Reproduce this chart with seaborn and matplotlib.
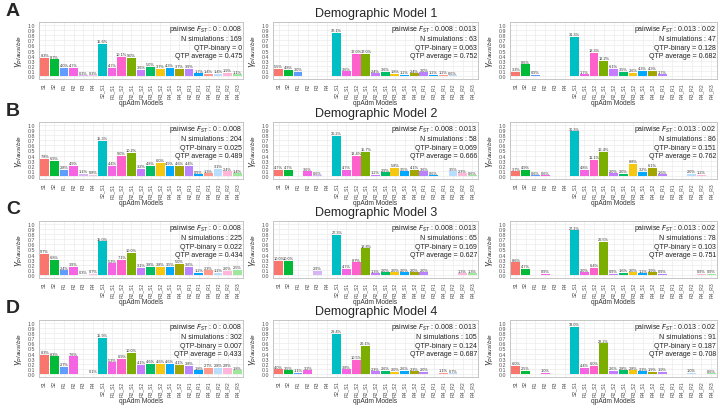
import numpy as np
import pandas as pd
import matplotlib
matplotlib.use("Agg")
import matplotlib.pyplot as plt
import seaborn as sns

sns.set_style("whitegrid")
plt.rcParams['font.family'] = ['Liberation Sans', 'DejaVu Sans']

# qpAdm model categories
models = ["S1", "S2", "R1", "R2", "R3", "R4", "S2_S1", "R1_S1", "R1_S2", "R2_S1",
          "R2_S2", "R3_S1", "R3_S2", "R4_S1", "R4_S2", "R2_R1", "R3_R1", "R4_R1",
          "R3_R2", "R4_R2", "R4_R3"]

bar_colors = ["#F8766D", "#00BA38", "#619CFF", "#F564E3", "#D7B5F5", "#F6C3E6",
              "#00BFC4", "#F564E3", "#FF61CC", "#7CAE00", "#C77CFF", "#00BE67",
              "#F5C710", "#00A9FF", "#A3A500", "#B983FF", "#00A5FF", "#FF9A8C",
              "#B9DDFF", "#FFB6D9", "#9DE89D"]

# Model 1
h_A1 = [0.36, 0.33, 0.16, 0.17, 0.02, 0.02, 0.63, 0.17, 0.38, 0.36, 0.13, 0.18, 0.14, 0.16, 0.14, 0.15, 0.06, 0.05, 0.05, 0.07, 0.04]
p_A1 = [8.3, 8.7, 4.0, 4.7, 0.3, 0.3, 15.6, 4.7, 10.1, 9.0, 3.6, 5.0, 3.7, 4.3, 3.7, 3.9, 1.7, 1.4, 1.4, 1.9, 1.1]
h_A2 = [0.14, 0.13, 0.09, 0, 0, 0, 0.84, 0.10, 0.44, 0.44, 0.06, 0.09, 0.05, 0.03, 0.06, 0.08, 0.03, 0.03, 0.02, 0, 0]
p_A2 = [5.5, 4.8, 3.0, 0, 0, 0, 32.1, 3.6, 17.0, 17.0, 2.4, 3.6, 1.8, 1.2, 2.4, 3.0, 1.2, 1.2, 0.6, 0, 0]
h_A3 = [0.09, 0.23, 0.03, 0, 0, 0, 0.77, 0.04, 0.45, 0.30, 0.15, 0.09, 0.07, 0.11, 0.11, 0.04, 0, 0, 0, 0, 0]
p_A3 = [3.3, 8.6, 0.9, 0, 0, 0, 31.3, 1.7, 18.3, 12.2, 6.1, 3.5, 2.6, 4.3, 4.3, 1.7, 0, 0, 0, 0, 0]
# Model 2
h_B1 = [0.34, 0.30, 0.12, 0.21, 0.05, 0.03, 0.68, 0.20, 0.40, 0.46, 0.14, 0.21, 0.26, 0.21, 0.20, 0.20, 0.04, 0.06, 0.14, 0.10, 0.06]
p_B1 = [7.8, 6.9, 2.8, 4.9, 1.1, 0.8, 15.3, 4.4, 9.0, 10.2, 3.2, 4.8, 6.0, 4.9, 4.6, 4.4, 0.9, 1.3, 3.1, 2.4, 1.4]
h_B2 = [0.12, 0.12, 0, 0.10, 0.02, 0, 0.78, 0.13, 0.40, 0.47, 0.03, 0.08, 0.17, 0.10, 0.12, 0.10, 0.02, 0, 0.10, 0.06, 0.02]
p_B2 = [4.7, 4.7, 0, 3.6, 0.6, 0, 30.2, 4.7, 13.4, 15.7, 1.2, 2.9, 5.8, 3.5, 4.1, 3.6, 0.6, 0, 3.5, 2.3, 0.6]
h_B3 = [0.10, 0.13, 0.02, 0.02, 0, 0, 0.87, 0.13, 0.32, 0.47, 0.06, 0.05, 0.24, 0.09, 0.17, 0.04, 0, 0, 0.05, 0.03, 0]
p_B3 = [3.7, 4.9, 0.6, 0.6, 0, 0, 30.3, 4.8, 11.1, 16.4, 2.0, 2.0, 8.8, 3.2, 6.1, 1.6, 0, 0, 2.0, 1.2, 0]
# Model 3
h_C1 = [0.41, 0.30, 0.10, 0.17, 0.01, 0.03, 0.66, 0.23, 0.30, 0.44, 0.14, 0.17, 0.17, 0.16, 0.22, 0.16, 0.05, 0.10, 0.05, 0.09, 0.11]
p_C1 = [9.7, 6.8, 2.4, 3.9, 0.3, 0.7, 15.0, 5.2, 7.1, 10.0, 3.1, 3.8, 3.8, 3.5, 5.0, 3.6, 1.2, 2.3, 1.2, 2.0, 2.5]
h_C2 = [0.28, 0.28, 0, 0, 0.09, 0, 0.78, 0.13, 0.25, 0.52, 0.04, 0.06, 0.06, 0.06, 0.06, 0.06, 0, 0, 0, 0.04, 0.04]
p_C2 = [10.0, 10.0, 0, 0, 2.9, 0, 27.3, 4.7, 8.7, 18.8, 1.3, 2.0, 2.0, 2.0, 2.0, 2.0, 0, 0, 0, 1.3, 1.3]
h_C3 = [0.25, 0.12, 0, 0.03, 0, 0, 0.87, 0.06, 0.15, 0.65, 0.03, 0.05, 0.06, 0.04, 0.06, 0.03, 0, 0, 0, 0.03, 0.03]
p_C3 = [8.6, 4.7, 0, 0.9, 0, 0, 27.2, 2.0, 6.4, 20.5, 0.9, 1.6, 2.0, 1.2, 1.9, 0.9, 0, 0, 0, 0.9, 0.9]
# Model 4
h_D1 = [0.38, 0.35, 0.14, 0.35, 0, 0.01, 0.70, 0.23, 0.30, 0.42, 0.18, 0.20, 0.20, 0.20, 0.18, 0.16, 0.08, 0.12, 0.12, 0.12, 0.08]
p_D1 = [8.3, 8.3, 2.7, 7.6, 0, 0.1, 15.9, 5.2, 6.9, 10.0, 4.1, 4.6, 4.6, 4.6, 4.1, 3.8, 1.8, 2.7, 2.8, 2.8, 1.8]
h_D2 = [0.10, 0.08, 0.03, 0.08, 0, 0, 0.78, 0.10, 0.28, 0.55, 0.06, 0.07, 0.05, 0.07, 0.06, 0.05, 0, 0.03, 0.02, 0, 0]
p_D2 = [4.0, 3.5, 1.1, 3.2, 0, 0, 29.4, 3.8, 10.5, 20.1, 2.3, 2.6, 2.0, 2.6, 2.3, 2.0, 0, 1.1, 0.7, 0, 0]
h_D3 = [0.16, 0.07, 0, 0.03, 0, 0, 0.92, 0.12, 0.16, 0.60, 0.07, 0.08, 0.08, 0.06, 0.05, 0.05, 0, 0, 0.03, 0, 0.02]
p_D3 = [6.0, 2.5, 0, 1.0, 0, 0, 33.0, 4.4, 6.0, 22.2, 2.6, 2.8, 2.8, 2.3, 1.9, 1.9, 0, 0, 1.0, 0, 0.6]

fst_ranges = ["0 : 0.008", "0.008 : 0.013", "0.013 : 0.02"]
n_sims = [[169, 63, 47], [204, 58, 86], [225, 65, 78], [302, 105, 91]]
qtp_binary = [["0", "0.063", "0.128"], ["0.025", "0.069", "0.151"],
              ["0.022", "0.169", "0.103"], ["0.007", "0.124", "0.187"]]
qtp_avg = [["0.475", "0.752", "0.682"], ["0.489", "0.666", "0.762"],
           ["0.434", "0.627", "0.751"], ["0.433", "0.687", "0.708"]]

heights = [[h_A1, h_A2, h_A3], [h_B1, h_B2, h_B3], [h_C1, h_C2, h_C3], [h_D1, h_D2, h_D3]]
pcts = [[p_A1, p_A2, p_A3], [p_B1, p_B2, p_B3], [p_C1, p_C2, p_C3], [p_D1, p_D2, p_D3]]
row_letters = ["A", "B", "C", "D"]

palette = dict(zip(models, bar_colors))

W, H = 720, 410
fig = plt.figure(figsize=(7.2, 4.1), dpi=100)

col_x = [(39, 243), (273, 478), (510, 717)]
row_top = [23, 123, 222, 321]
ax_h = 57

for r in range(4):
    fig.text(6 / W, 1 - (row_top[r] - 12) / H, row_letters[r], fontsize=14,
             fontweight='bold', ha='left', va='center')
    fig.text(376 / W, 1 - (row_top[r] - 9) / H, f"Demographic Model {r + 1}",
             fontsize=9, ha='center', va='center')
    for c in range(3):
        x0, x1 = col_x[c]
        ax = fig.add_axes([x0 / W, 1 - (row_top[r] + ax_h) / H, (x1 - x0) / W, ax_h / H])
        df = pd.DataFrame({"model": models, "val": heights[r][c]})
        sns.barplot(data=df, x="model", y="val", hue="model", palette=palette,
                    order=models, hue_order=models, width=0.9, legend=False,
                    edgecolor='none', saturation=1, ax=ax)
        # percentage labels on top of the bars
        for cont, pc in zip(ax.containers, pcts[r][c]):
            ax.bar_label(cont, labels=[f"{pc:.1f}%" if pc > 0 else ""],
                         fontsize=2.8, padding=0.5, color='#333333')
        ax.set_ylim(-0.05, 1.05)
        ax.set_xlim(-0.6, len(models) - 0.4)
        ax.set_yticks(np.arange(0, 1.01, 0.1))
        ax.set_yticklabels([f"{v:.1f}" for v in np.arange(0, 1.01, 0.1)])
        ax.tick_params(axis='y', labelsize=3.8, length=1.5, pad=1, colors='#4d4d4d')
        ax.tick_params(axis='x', labelsize=3.6, length=1.5, pad=1, rotation=90, colors='#4d4d4d')
        ax.grid(True, color='#ebebeb', linewidth=0.5)
        ax.set_axisbelow(True)
        for sp in ax.spines.values():
            sp.set_color('#bdbdbd')
            sp.set_linewidth(0.6)
        ax.set_xlabel("qpAdm Models", fontsize=4.8, labelpad=1, color='#333333')
        ax.set_ylabel(r"$\gamma_{plausible}$", fontsize=6, labelpad=2)
        info = (f"pairwise $F_{{ST}}$ : {fst_ranges[c]}\n"
                f"N simulations : {n_sims[r][c]}\n"
                f"QTP-binary = {qtp_binary[r][c]}\n"
                f"QTP average = {qtp_avg[r][c]}")
        ax.text(0.995, 0.985, info, transform=ax.transAxes, ha='right', va='top',
                fontsize=5.0, linespacing=1.3, color='#222222')

fig.savefig("out.png", dpi=100)
